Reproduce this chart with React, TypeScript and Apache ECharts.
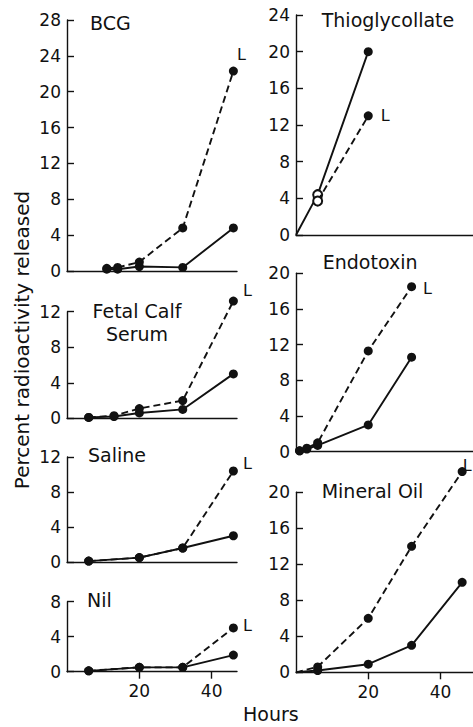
import React, { useEffect, useRef } from "react";
import * as echarts from "echarts";

// ---------- data (hours, percent radioactivity released) ----------
const bcgHours = [11, 14, 20, 32, 46];
const bcgDashed = [0.3, 0.4, 1.0, 4.8, 22.3];
const bcgSolid = [0.2, 0.2, 0.5, 0.4, 4.8];

const fetalHours = [6, 13, 20, 32, 46];
const fetalDashed = [0.1, 0.3, 1.1, 2.0, 13.2];
const fetalSolid = [0.1, 0.2, 0.6, 1.0, 5.0];

const salineHours = [6, 20, 32, 46];
const salineDashed = [0.1, 0.5, 1.6, 10.4];
const salineSolid = [0.1, 0.5, 1.6, 3.0];

const nilHours = [6, 20, 32, 46];
const nilDashed = [0.1, 0.5, 0.5, 5.0];
const nilSolid = [0.1, 0.5, 0.5, 1.9];

const thioHoursSolid = [0, 6, 20];
const thioSolid = [0, 4.4, 20];
const thioHoursDashed = [6, 20];
const thioDashed = [3.7, 13];
const thioOpenHours = [6];

const endoHours = [1, 3, 6, 20, 32];
const endoDashed = [0.1, 0.4, 1.0, 11.3, 18.5];
const endoSolid = [0.1, 0.3, 0.7, 3.0, 10.6];

const oilHours = [0, 6, 20, 32, 46];
const oilDashed = [0, 0.6, 6.0, 14.0, 22.3];
const oilSolid = [0, 0.2, 0.9, 3.0, 10.0];

const titles = ["BCG", "Fetal Calf\nSerum", "Saline", "Nil", "Thioglycollate", "Endotoxin", "Mineral Oil"];
const yMaxes = [28, 12, 12, 8, 24, 20, 20];
const xTickLabels = [20, 40];
const yAxisName = "Percent radioactivity released";
const xAxisName = "Hours";
const lysedMark = "L";

// ---------- layout ----------
const FONT = "'DejaVu Sans', 'Liberation Sans', sans-serif";
const INK = "#111";

const grids = [
  { left: 67, top: 20, width: 170, height: 251 },
  { left: 67, top: 311.7, width: 170, height: 106.6 },
  { left: 67, top: 457, width: 170, height: 105 },
  { left: 67, top: 601.7, width: 170, height: 70 },
  { left: 296, top: 15, width: 177, height: 220 },
  { left: 296, top: 273.3, width: 177, height: 178.4 },
  { left: 296, top: 492.3, width: 177, height: 180 },
];
const xMaxes = [47, 47, 47, 47, 49, 49, 49];
const bottomPanels = [3, 6];
const lOffsets: number[][] = [
  [-6, -17],
  [0, -11],
  [0, -8],
  [0, -2],
  [3, 0],
  [2, 2],
  [-9, -6],
];
const titlePos = [
  { x: 90, y: 22.7, align: "left" },
  { x: 137, y: 322, align: "center" },
  { x: 88, y: 455, align: "left" },
  { x: 87, y: 600, align: "left" },
  { x: 321.7, y: 20, align: "left" },
  { x: 322.7, y: 261.7, align: "left" },
  { x: 321.7, y: 490.7, align: "left" },
];

const makePoints = (
  hours: number[],
  vals: number[],
  panel: number,
  lastLabel: boolean,
  openHours: number[] = []
) =>
  hours.map((h, i) => {
    const item: any = { value: [h, vals[i]] };
    if (h === 0) item.symbol = "none";
    else if (openHours.includes(h)) {
      item.symbol = "emptyCircle";
      item.symbolSize = 9;
      item.itemStyle = { color: INK, borderWidth: 1.6 };
    }
    if (lastLabel && i === hours.length - 1) {
      item.label = {
        show: true,
        formatter: lysedMark,
        position: "right",
        offset: lOffsets[panel],
        fontSize: 16,
        fontFamily: FONT,
        color: INK,
      };
    }
    return item;
  });

const panelSeries = [
  { solid: makePoints(bcgHours, bcgSolid, 0, false), dashed: makePoints(bcgHours, bcgDashed, 0, true) },
  { solid: makePoints(fetalHours, fetalSolid, 1, false), dashed: makePoints(fetalHours, fetalDashed, 1, true) },
  { solid: makePoints(salineHours, salineSolid, 2, false), dashed: makePoints(salineHours, salineDashed, 2, true) },
  { solid: makePoints(nilHours, nilSolid, 3, false), dashed: makePoints(nilHours, nilDashed, 3, true) },
  {
    solid: makePoints(thioHoursSolid, thioSolid, 4, false, thioOpenHours),
    dashed: makePoints(thioHoursDashed, thioDashed, 4, true, thioOpenHours),
  },
  { solid: makePoints(endoHours, endoSolid, 5, false), dashed: makePoints(endoHours, endoDashed, 5, true) },
  { solid: makePoints(oilHours, oilSolid, 6, false), dashed: makePoints(oilHours, oilDashed, 6, true) },
];

function buildOption() {
  const xAxis = grids.map((_, i) => {
    const isBottom = bottomPanels.includes(i);
    return {
      type: "value",
      gridIndex: i,
      min: 0,
      max: xMaxes[i],
      interval: 20,
      axisLine: { show: true, onZero: false, lineStyle: { color: INK, width: 1.4 } },
      axisTick: {
        show: isBottom,
        inside: false,
        length: 7,
        customValues: xTickLabels,
        lineStyle: { color: INK, width: 1.4 },
      },
      axisLabel: {
        show: isBottom,
        customValues: xTickLabels,
        formatter: (v: number) => (xTickLabels.includes(v) ? String(v) : ""),
        margin: 11,
        fontSize: 17,
        fontFamily: FONT,
        color: INK,
      },
      splitLine: { show: false },
    };
  });
  const yAxis = grids.map((_, i) => ({
    type: "value",
    gridIndex: i,
    min: 0,
    max: yMaxes[i],
    interval: 4,
    axisLine: { show: true, onZero: false, lineStyle: { color: INK, width: 1.4 } },
    axisTick: { show: true, inside: true, length: 7, lineStyle: { color: INK, width: 1.4 } },
    axisLabel: { margin: 6, fontSize: 17, fontFamily: FONT, color: INK },
    splitLine: { show: false },
  }));
  const series: any[] = [];
  panelSeries.forEach((p, i) => {
    series.push({
      type: "line",
      xAxisIndex: i,
      yAxisIndex: i,
      data: p.solid,
      symbol: "circle",
      symbolSize: 9,
      clip: false,
      lineStyle: { color: INK, width: 1.9, type: "solid" },
      itemStyle: { color: INK },
      z: 3,
    });
    series.push({
      type: "line",
      xAxisIndex: i,
      yAxisIndex: i,
      data: p.dashed,
      symbol: "circle",
      symbolSize: 9,
      clip: false,
      lineStyle: { color: INK, width: 1.9, type: [7, 4] },
      itemStyle: { color: INK },
      z: 4,
    });
  });
  const graphic: any[] = titles.map((t, i) => ({
    type: "text",
    x: titlePos[i].x,
    y: titlePos[i].y,
    style: {
      text: t,
      fontSize: 19,
      fontFamily: FONT,
      fill: INK,
      textAlign: titlePos[i].align,
      textVerticalAlign: "middle",
      lineHeight: 23,
    },
  }));
  graphic.push({
    type: "text",
    x: 22,
    y: 340,
    rotation: Math.PI / 2,
    style: {
      text: yAxisName,
      fontSize: 20,
      fontFamily: FONT,
      fill: INK,
      textAlign: "center",
      textVerticalAlign: "middle",
    },
  });
  graphic.push({
    type: "text",
    x: 243,
    y: 714,
    style: {
      text: xAxisName,
      fontSize: 19,
      fontFamily: FONT,
      fill: INK,
      textAlign: "left",
      textVerticalAlign: "middle",
    },
  });
  return {
    animation: false,
    backgroundColor: "#fff",
    grid: grids.map((g) => ({ ...g, containLabel: false })),
    xAxis,
    yAxis,
    series,
    graphic,
  };
}

export default function App() {
  const ref = useRef<HTMLDivElement>(null);
  useEffect(() => {
    document.body.style.margin = "0";
    if (!ref.current) return;
    const chart = echarts.init(ref.current, undefined, { renderer: "svg" });
    chart.setOption(buildOption() as any);
    return () => chart.dispose();
  }, []);
  return <div ref={ref} style={{ width: 473, height: 727 }} />;
}
